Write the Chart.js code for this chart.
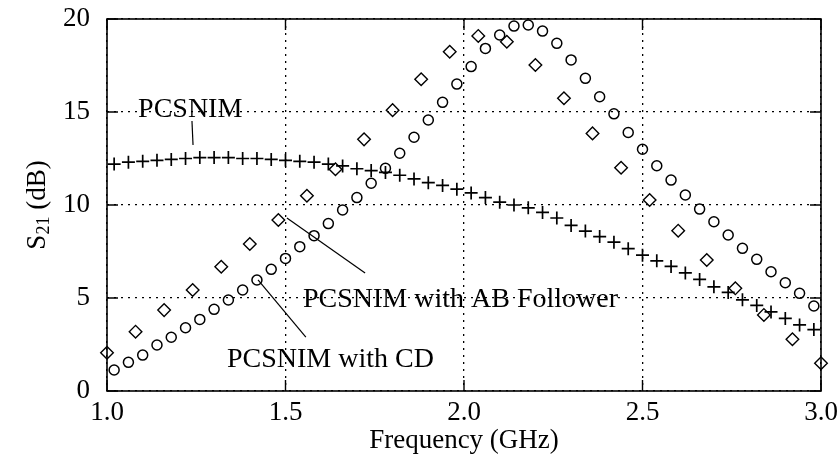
<!DOCTYPE html>
<html>
<head>
<meta charset="utf-8">
<title>S21 vs Frequency</title>
<script src="https://cdn.jsdelivr.net/npm/chart.js@4/dist/chart.umd.min.js"></script>
<style>
    html, body { margin: 0; padding: 0; background: #fff; }
    #wrap { position: relative; width: 840px; height: 464px; }
</style>
</head>
<body>
<div id="wrap"><canvas id="s21Chart"></canvas></div>
<script>
(function () {
    'use strict';

    const FONT = "'Liberation Serif', 'Times New Roman', serif";

    // PCSNIM (+) and PCSNIM with CD (o) share the same frequency points
    const freqFine = [
        1.02, 1.06, 1.10, 1.14, 1.18, 1.22, 1.26, 1.30, 1.34, 1.38,
        1.42, 1.46, 1.50, 1.54, 1.58, 1.62, 1.66, 1.70, 1.74, 1.78,
        1.82, 1.86, 1.90, 1.94, 1.98, 2.02, 2.06, 2.10, 2.14, 2.18,
        2.22, 2.26, 2.30, 2.34, 2.38, 2.42, 2.46, 2.50, 2.54, 2.58,
        2.62, 2.66, 2.70, 2.74, 2.78, 2.82, 2.86, 2.90, 2.94, 2.98,
    ];

    const pcsnim = [
        12.2, 12.3, 12.35, 12.4, 12.45, 12.5, 12.55, 12.55, 12.55, 12.5,
        12.5, 12.45, 12.4, 12.35, 12.3, 12.2, 12.1, 11.95, 11.85, 11.75,
        11.6, 11.4, 11.2, 11.05, 10.85, 10.65, 10.4, 10.15, 10.0, 9.85,
        9.6, 9.3, 8.9, 8.6, 8.3, 8.0, 7.65, 7.3, 7.0, 6.7,
        6.35, 6.0, 5.6, 5.3, 4.9, 4.6, 4.25, 3.9, 3.55, 3.3,
    ];

    const pcsnimCD = [
        1.13, 1.54, 1.93, 2.47, 2.89, 3.4, 3.85, 4.39, 4.89, 5.43,
        5.97, 6.54, 7.13, 7.76, 8.35, 9.0, 9.73, 10.4, 11.17, 11.97,
        12.78, 13.64, 14.57, 15.52, 16.5, 17.44, 18.42, 19.14, 19.62, 19.68,
        19.35, 18.69, 17.8, 16.81, 15.82, 14.9, 13.9, 13.0, 12.11, 11.34,
        10.54, 9.78, 9.1, 8.39, 7.67, 7.08, 6.41, 5.82, 5.25, 4.57,
    ];

    // PCSNIM with AB Follower (diamonds) uses a coarser grid
    const freqCoarse = [
        1.00, 1.08, 1.16, 1.24, 1.32, 1.40, 1.48, 1.56, 1.64, 1.72,
        1.80, 1.88, 1.96, 2.04, 2.12, 2.20, 2.28, 2.36, 2.44, 2.52,
        2.60, 2.68, 2.76, 2.84, 2.92, 3.00,
    ];

    const pcsnimAB = [
        2.06, 3.19, 4.35, 5.43, 6.68, 7.9, 9.19, 10.5, 11.92, 13.53,
        15.1, 16.76, 18.24, 19.09, 18.78, 17.53, 15.74, 13.85, 12.0, 10.27,
        8.62, 7.04, 5.52, 4.09, 2.78, 1.49,
    ];

    const xTicks = [1.0, 1.5, 2.0, 2.5, 3.0];
    const yTicks = [0, 5, 10, 15, 20];

    // callout labels: text start (x, baseline y) and leader line, in data units
    const labelTexts = ['PCSNIM', 'PCSNIM with AB Follower', 'PCSNIM with CD'];
    const labelAt = [[1.087, 14.73], [1.549, 4.53], [1.336, 1.29]];
    const leaderFrom = [[1.238, 14.52], [1.504, 9.30], [1.423, 5.97]];
    const leaderTo = [[1.241, 13.23], [1.723, 6.34], [1.557, 2.90]];

    function toPoints(xs, ys) {
        return xs.map((x, i) => ({ x: x, y: ys[i] }));
    }

    const decorPlugin = {
        id: 'decor',
        afterDatasetsDraw(chart) {
            const ctx = chart.ctx;
            const area = chart.chartArea;
            const xs = chart.scales.x;
            const ys = chart.scales.y;
            ctx.save();
            ctx.strokeStyle = '#000';
            ctx.fillStyle = '#000';

            // frame
            ctx.lineWidth = 1.6;
            ctx.strokeRect(area.left, area.top, area.right - area.left, area.bottom - area.top);

            // inward tick marks
            ctx.lineWidth = 1.4;
            ctx.beginPath();
            xTicks.forEach((v) => {
                const px = xs.getPixelForValue(v);
                ctx.moveTo(px, area.bottom); ctx.lineTo(px, area.bottom - 11);
                ctx.moveTo(px, area.top); ctx.lineTo(px, area.top + 11);
            });
            yTicks.forEach((v) => {
                const py = ys.getPixelForValue(v);
                ctx.moveTo(area.left, py); ctx.lineTo(area.left + 11, py);
                ctx.moveTo(area.right, py); ctx.lineTo(area.right - 11, py);
            });
            ctx.stroke();

            // callouts
            ctx.lineWidth = 1.2;
            ctx.font = '28px ' + FONT;
            ctx.textBaseline = 'alphabetic';
            ctx.textAlign = 'left';
            labelTexts.forEach((t, i) => {
                ctx.beginPath();
                ctx.moveTo(xs.getPixelForValue(leaderFrom[i][0]), ys.getPixelForValue(leaderFrom[i][1]));
                ctx.lineTo(xs.getPixelForValue(leaderTo[i][0]), ys.getPixelForValue(leaderTo[i][1]));
                ctx.stroke();
                ctx.fillText(t, xs.getPixelForValue(labelAt[i][0]), ys.getPixelForValue(labelAt[i][1]));
            });

            // y axis title with subscript
            const cy = (area.top + area.bottom) / 2;
            ctx.translate(38, cy);
            ctx.rotate(-Math.PI / 2);
            ctx.textBaseline = 'middle';
            const big = '27px ' + FONT;
            const small = '18px ' + FONT;
            ctx.font = big;
            const wS = ctx.measureText('S').width;
            const wRest = ctx.measureText(' (dB)').width;
            ctx.font = small;
            const wSub = ctx.measureText('21').width;
            let x0 = -(wS + wSub + wRest) / 2;
            ctx.font = big;
            ctx.fillText('S', x0, 0);
            ctx.font = small;
            ctx.fillText('21', x0 + wS, 6);
            ctx.font = big;
            ctx.fillText(' (dB)', x0 + wS + wSub, 0);
            ctx.restore();
        },
    };

    function initChart() {
        const canvas = document.getElementById('s21Chart');
        if (!canvas || typeof Chart === 'undefined') return;

        const tickFont = { family: FONT, size: 27 };

        new Chart(canvas, {
            type: 'scatter',
            data: {
                datasets: [
                    {
                        label: 'PCSNIM',
                        data: toPoints(freqFine, pcsnim),
                        pointStyle: 'cross',
                        pointRadius: 6.5,
                        borderColor: '#000',
                        borderWidth: 1.7,
                        clip: false,
                    },
                    {
                        label: 'PCSNIM with CD',
                        data: toPoints(freqFine, pcsnimCD),
                        pointStyle: 'circle',
                        pointRadius: 5,
                        borderColor: '#000',
                        backgroundColor: 'rgba(0,0,0,0)',
                        borderWidth: 1.5,
                        clip: false,
                    },
                    {
                        label: 'PCSNIM with AB Follower',
                        data: toPoints(freqCoarse, pcsnimAB),
                        pointStyle: 'rectRot',
                        pointRadius: 6.3,
                        borderColor: '#000',
                        backgroundColor: 'rgba(0,0,0,0)',
                        borderWidth: 1.4,
                        clip: false,
                    },
                ],
            },
            options: {
                responsive: true,
                maintainAspectRatio: false,
                animation: false,
                layout: { padding: { top: 19, right: 19, left: 0, bottom: 0 } },
                plugins: {
                    legend: { display: false },
                    tooltip: { enabled: false },
                },
                scales: {
                    x: {
                        type: 'linear',
                        min: 1,
                        max: 3,
                        afterFit: (scale) => {
                            scale.height = 73;
                            scale.paddingLeft = 0;
                            scale.paddingRight = 0;
                        },
                        afterBuildTicks: (scale) => { scale.ticks = xTicks.map((v) => ({ value: v })); },
                        ticks: {
                            color: '#000',
                            font: tickFont,
                            padding: 6,
                            maxRotation: 0,
                            callback: (v) => Number(v).toFixed(1),
                        },
                        grid: { color: '#000', lineWidth: 1.3, drawTicks: false },
                        border: { display: false, dash: [2, 5] },
                        title: {
                            display: true,
                            text: 'Frequency (GHz)',
                            color: '#000',
                            font: { family: FONT, size: 27 },
                            padding: { top: 0, bottom: 7 },
                        },
                    },
                    y: {
                        type: 'linear',
                        min: 0,
                        max: 20,
                        afterFit: (scale) => {
                            scale.width = 107;
                            scale.paddingTop = 0;
                            scale.paddingBottom = 0;
                        },
                        afterBuildTicks: (scale) => { scale.ticks = yTicks.map((v) => ({ value: v })); },
                        ticks: {
                            color: '#000',
                            font: tickFont,
                            padding: 17,
                        },
                        grid: { color: '#000', lineWidth: 1.3, drawTicks: false },
                        border: { display: false, dash: [2, 5] },
                    },
                },
            },
            plugins: [decorPlugin],
        });
    }

    document.addEventListener('DOMContentLoaded', initChart);
})();
</script>
</body>
</html>
